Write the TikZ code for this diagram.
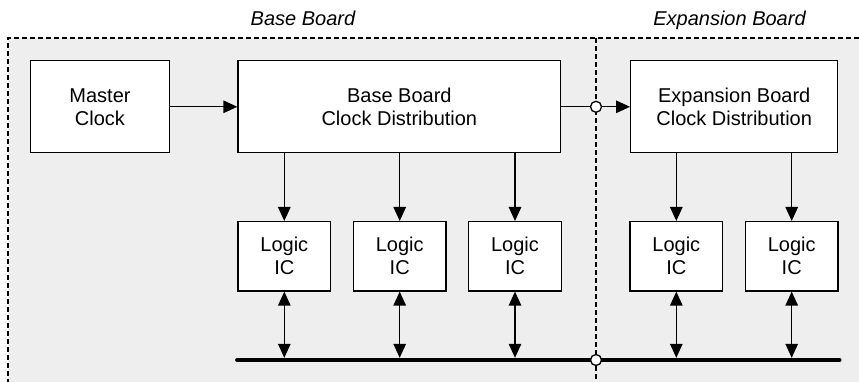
\documentclass[tikz,border=0pt]{standalone}
\usepackage{fontspec}
\setmainfont{Liberation Sans}
\usetikzlibrary{arrows.meta}
\definecolor{boardfill}{HTML}{EEEEEE}
\begin{document}
\begin{tikzpicture}[x=1pt,y=-1pt,
  box/.style={draw=black, line width=1.3pt, fill=white, align=center, inner sep=0pt, font=\fontsize{20}{23}\selectfont},
  logicbox/.style={box, minimum width=92.7pt, minimum height=69.3pt},
  arr/.style={line width=1.3pt, -{Triangle[length=14pt,width=12.5pt]}},
  biarr/.style={line width=1.3pt, {Triangle[length=14pt,width=12.5pt]}-{Triangle[length=14pt,width=12.5pt]}},
  boardline/.style={line width=1.2pt, dash pattern=on 5pt off 3pt},
  title/.style={font=\fontsize{20}{23}\selectfont\itshape, anchor=base, inner sep=0pt},
  joint/.style={circle, draw=black, fill=white, line width=1.3pt, minimum size=11pt, inner sep=0pt},
  bus/.style={line width=4.5pt, line cap=round}
]
\useasboundingbox (0,0) rectangle (859,382);
\begin{scope}
  \clip (0,0) rectangle (859,382);
  \fill[boardfill] (8,38) rectangle (880,400);
  \draw[boardline] (8,400) -- (8,38) -- (880,38);
  \draw[boardline] (596,38) -- (596,400);
\end{scope}
\node[title] (tbase) at (303,26) {Base Board};
\node[title] (texp) at (729.5,26) {Expansion Board};

\node[box, minimum width=138.6pt, minimum height=92pt] (master) at (100,106.8) {Master\\Clock};
\node[box, minimum width=322.7pt, minimum height=92pt] (bdist) at (399.35,106.8) {Base Board\\Clock Distribution};
\node[box, minimum width=207pt, minimum height=92pt] (edist) at (734.2,106.8) {Expansion Board\\Clock Distribution};

\node[logicbox] (l1) at (284.3,256.3) {Logic\\IC};
\node[logicbox] (l2) at (399.7,256.3) {Logic\\IC};
\node[logicbox] (l3) at (515,256.3) {Logic\\IC};
\node[logicbox] (l4) at (676.3,256.3) {Logic\\IC};
\node[logicbox] (l5) at (791.7,256.3) {Logic\\IC};

\coordinate (busL) at (237.3,360);
\coordinate (busR) at (839.3,360);
\coordinate (busT) at (0,357.8);
\draw[bus] (busL) -- (busR);

\draw[arr] (master) -- (bdist);
\draw[arr] (bdist) -- (edist);
\foreach \n in {l1,l2,l3} {
  \draw[arr] (bdist.south -| \n) -- (\n.north);
}
\foreach \n in {l4,l5} {
  \draw[arr] (edist.south -| \n) -- (\n.north);
}
\foreach \n in {l1,l2,l3,l4,l5} {
  \draw[biarr] (\n.south) -- (\n.south |- busT);
}
\node[joint] (j1) at (596,106.8) {};
\node[joint] (j2) at (596,360) {};
\end{tikzpicture}
\end{document}
